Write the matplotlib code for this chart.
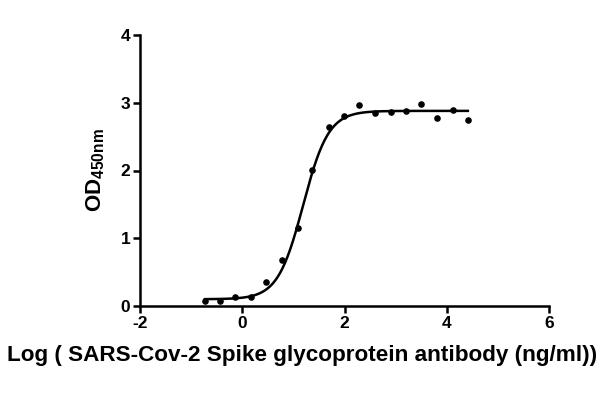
import numpy as np
import matplotlib
matplotlib.use("Agg")
from matplotlib import pyplot as plt

# measured points: log concentration vs OD450
log_conc = [-0.73, -0.44, -0.14, 0.17, 0.47, 0.77, 1.08, 1.37, 1.69, 1.98,
            2.29, 2.60, 2.90, 3.21, 3.50, 3.80, 4.11, 4.41]
od450 = [0.08, 0.07, 0.13, 0.13, 0.35, 0.68, 1.15, 2.01, 2.64, 2.80,
         2.96, 2.85, 2.87, 2.88, 2.98, 2.78, 2.89, 2.75]

# four-parameter logistic fit
bottom, top, log_ec50, hill = 0.10, 2.88, 1.19, 1.75

plt.rcParams['font.family'] = ['Liberation Sans', 'DejaVu Sans']
plt.rcParams['font.weight'] = 'bold'
plt.rcParams['axes.unicode_minus'] = False
plt.rcParams['mathtext.fontset'] = 'custom'
plt.rcParams['mathtext.rm'] = 'Liberation Sans:bold'
plt.rcParams['mathtext.bf'] = 'Liberation Sans:bold'
plt.rcParams['mathtext.default'] = 'bf'

fig = plt.figure(figsize=(6, 4), dpi=100)
ax = fig.add_axes([0.2333, 0.235, 0.682, 0.6775])

xs = np.linspace(min(log_conc), max(log_conc), 300)
ys = bottom + (top - bottom) / (1 + 10 ** ((log_ec50 - xs) * hill))
ax.plot(xs, ys, color='black', lw=1.8, zorder=2)
ax.scatter(log_conc, od450, s=14, color='black', zorder=3, clip_on=False)

ax.set_xlim(-2, 6)
ax.set_ylim(0, 4)
ax.set_xticks([-2, 0, 2, 4, 6])
ax.set_yticks([0, 1, 2, 3, 4])
for s in ['top', 'right']:
    ax.spines[s].set_visible(False)
for s in ['left', 'bottom']:
    ax.spines[s].set_linewidth(1.8)
ax.tick_params(width=1.8, length=5, labelsize=12.5, pad=2)
for lab in ax.get_xticklabels() + ax.get_yticklabels():
    lab.set_fontweight('bold')

# x label is centred on the figure, not on the axes
fig.text(0.503, 0.11, 'Log ( SARS-Cov-2 Spike glycoprotein antibody (ng/ml))',
         fontsize=16.2, fontweight='bold', ha='center', va='center')
ax.set_ylabel(r'$\mathbf{OD}_{\mathbf{450nm}}$', fontsize=16, labelpad=10)

fig.savefig('out.png', dpi=100)
